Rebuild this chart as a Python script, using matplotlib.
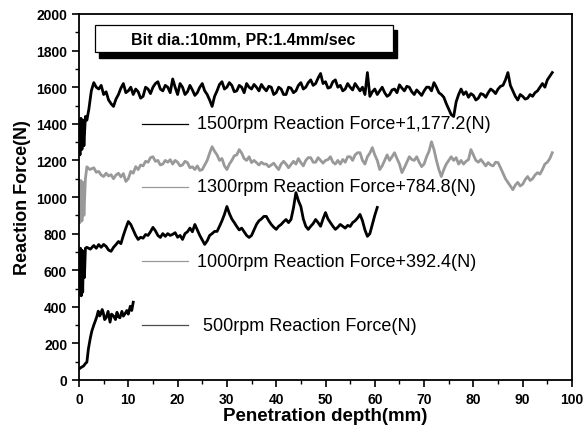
import matplotlib
matplotlib.use("Agg")
import matplotlib.pyplot as plt
import numpy as np
from matplotlib.patches import Rectangle

plt.rcParams['font.family'] = ['Liberation Sans', 'DejaVu Sans']

# reaction force traces (depth in mm, force in N)
# start-up part is read point by point, the rest every 0.5 mm
x1500_start = [0, 0.2, 0.4, 0.6, 0.8, 1.0, 1.3, 1.6, 2.0, 2.5]
y1500_start = [1400, 1230, 1430, 1260, 1420, 1280, 1440, 1420, 1480, 1580]
y1500 = [1625, 1600, 1590, 1610, 1560, 1575, 1530, 1510, 1495, 1535,
         1560, 1595, 1620, 1570, 1580, 1600, 1560, 1590, 1575, 1540,
         1550, 1600, 1590, 1565, 1600, 1620, 1630, 1590, 1580, 1610,
         1600, 1570, 1645, 1600, 1560, 1620, 1600, 1560, 1575, 1610,
         1585, 1555, 1570, 1600, 1620, 1580, 1560, 1530, 1495, 1550,
         1580, 1615, 1630, 1590, 1600, 1625, 1610, 1575, 1580, 1610,
         1600, 1570, 1620, 1600, 1590, 1615, 1600, 1580, 1615, 1595,
         1580, 1605, 1600, 1560, 1570, 1600, 1590, 1560, 1560, 1600,
         1595, 1570, 1580, 1610, 1625, 1590, 1600, 1625, 1640, 1610,
         1620, 1650, 1675, 1620, 1630, 1595, 1600, 1630, 1640, 1600,
         1610, 1580, 1590, 1620, 1600, 1585, 1620, 1600, 1580, 1600,
         1560, 1680, 1550, 1575, 1590, 1560, 1580, 1600, 1570, 1550,
         1560, 1585, 1590, 1570, 1613, 1595, 1580, 1605, 1600, 1575,
         1560, 1585, 1570, 1555, 1580, 1600, 1600, 1580, 1625, 1600,
         1570, 1560, 1545, 1510, 1480, 1450, 1440, 1520, 1560, 1590,
         1560, 1575, 1545, 1565, 1555, 1530, 1540, 1565, 1560, 1545,
         1570, 1590, 1580, 1565, 1590, 1605, 1610, 1640, 1680, 1610,
         1580, 1550, 1530, 1560, 1550, 1535, 1540, 1560, 1550, 1570,
         1580, 1600, 1620, 1600, 1640, 1660, 1680]

x1300_start = [0, 0.2, 0.4, 0.6, 0.8, 1.0, 1.3, 1.6, 2.2]
y1300_start = [1050, 860, 1090, 870, 1080, 900, 1100, 1165, 1150]
y1300 = [1160, 1135, 1140, 1120, 1112, 1130, 1115, 1122, 1100, 1120,
         1130, 1110, 1128, 1085, 1100, 1140, 1130, 1166, 1150, 1175,
         1170, 1195, 1190, 1215, 1220, 1195, 1200, 1175, 1180, 1200,
         1190, 1204, 1180, 1200, 1190, 1170, 1175, 1195, 1188, 1160,
         1165, 1150, 1170, 1145, 1150, 1175, 1200, 1240, 1275, 1250,
         1230, 1200, 1210, 1170, 1150, 1180, 1200, 1225, 1230, 1259,
         1240, 1210, 1200, 1220, 1188, 1200, 1188, 1175, 1190, 1180,
         1180, 1165, 1175, 1185, 1166, 1150, 1180, 1195, 1180, 1160,
         1177, 1195, 1180, 1210, 1188, 1170, 1200, 1215, 1215, 1190,
         1190, 1215, 1200, 1185, 1200, 1204, 1220, 1190, 1180, 1200,
         1180, 1205, 1190, 1220, 1220, 1200, 1230, 1242, 1242, 1200,
         1180, 1220, 1240, 1270, 1230, 1200, 1150, 1170, 1200, 1230,
         1200, 1220, 1242, 1210, 1180, 1133, 1160, 1190, 1220, 1205,
         1200, 1220, 1190, 1166, 1180, 1220, 1250, 1302, 1260, 1200,
         1150, 1112, 1150, 1180, 1200, 1220, 1200, 1215, 1180, 1200,
         1180, 1195, 1204, 1259, 1230, 1200, 1190, 1205, 1188, 1170,
         1188, 1175, 1170, 1190, 1188, 1160, 1130, 1100, 1080, 1060,
         1040, 1065, 1080, 1060, 1070, 1095, 1112, 1090, 1100, 1120,
         1133, 1125, 1150, 1180, 1190, 1210, 1242]

x1000_start = [0, 0.15, 0.3, 0.45, 0.6, 0.75, 0.9, 1.1, 1.3, 1.6, 2.3]
y1000_start = [700, 470, 720, 460, 710, 480, 700, 560, 720, 725, 715]
y1000 = [735, 720, 740, 725, 741, 730, 710, 703, 725, 740,
         757, 745, 790, 830, 866, 850, 820, 790, 768, 780,
         775, 795, 790, 810, 834, 815, 790, 779, 800, 785,
         800, 790, 796, 805, 780, 790, 768, 800, 810, 830,
         810, 850, 820, 790, 765, 741, 760, 790, 800, 812,
         812, 840, 870, 905, 948, 910, 880, 860, 839, 820,
         830, 810, 790, 779, 790, 820, 850, 870, 880, 894,
         894, 870, 850, 835, 823, 840, 850, 865, 877, 860,
         877, 940, 1024, 980, 948, 880, 840, 823, 840, 855,
         877, 860, 840, 880, 915, 880, 860, 840, 823, 835,
         850, 840, 830, 845, 839, 860, 870, 885, 905, 870,
         820, 785, 800, 850, 900, 943]

x500 = [0, 0.5, 0.9, 1.3, 1.6, 1.9, 2.3, 2.6, 3.0, 3.3, 3.6, 3.9, 4.2, 4.4, 4.7, 4.9, 5.2, 5.5, 5.9,
        6.3, 6.6, 7.0, 7.4, 7.7, 8.0, 8.3, 8.7, 9.0, 9.4, 9.7, 10.0, 10.4, 10.7, 11.0]
y500 = [60, 70, 76, 90, 98, 169, 230, 267, 300, 322, 345, 376, 350, 360, 385, 370, 330, 340, 375,
        316, 360, 350, 330, 370, 345, 340, 375, 349, 365, 380, 360, 403, 380, 425]

labels = ['1500rpm Reaction Force+1,177.2(N)', '1300rpm Reaction Force+784.8(N)',
          '1000rpm Reaction Force+392.4(N)', '500rpm Reaction Force(N)']

x1500 = x1500_start + list(3 + 0.5 * np.arange(len(y1500)))
x1300 = x1300_start + list(3 + 0.5 * np.arange(len(y1300)))
x1000 = x1000_start + list(3 + 0.5 * np.arange(len(y1000)))

fig = plt.figure(figsize=(5.84, 4.39), dpi=100)
ax = fig.add_axes([79 / 584, 1 - 381 / 439, (572 - 79) / 584, (381 - 15) / 439])

ax.plot(x1500, y1500_start + y1500, color='black', lw=2.0)
ax.plot(x1300, y1300_start + y1300, color='0.6', lw=2.0)
ax.plot(x1000, y1000_start + y1000, color='black', lw=2.0)
ax.plot(x500, y500, color='black', lw=2.0)

# hand placed legend entries, same as the original figure
leg_y = [1400, 1057, 648, 298]
leg_col = ['black', '0.6', '0.6', '0.3']
leg_tx = [24.0, 24.0, 24.0, 25.2]
for yy, c, lab, tx in zip(leg_y, leg_col, labels, leg_tx):
    ax.plot([12.8, 22.2], [yy, yy], color=c, lw=0.9)
    ax.text(tx, yy, lab, fontsize=13, va='center', ha='left')

# boxed condition note with shadow
ax.add_patch(Rectangle((4.0, 1762), 60.5, 148, fc='black', ec='black', zorder=4))
ax.add_patch(Rectangle((3.2, 1790), 60.5, 148, fc='white', ec='black', lw=0.9, zorder=5))
ax.text(33.4, 1864, 'Bit dia.:10mm, PR:1.4mm/sec', fontsize=11.5, fontweight='bold',
        ha='center', va='center', zorder=6)

ax.set_xlim(0, 100)
ax.set_ylim(0, 2000)
ax.set_xticks(range(0, 101, 10))
ax.set_yticks(range(0, 2001, 200))
ax.set_xticks(range(5, 100, 10), minor=True)
ax.set_yticks(range(100, 2000, 200), minor=True)
ax.tick_params(which='major', direction='out', length=5, width=1.2, top=False, right=False)
ax.tick_params(which='minor', direction='out', length=3, width=1, top=False, right=False)
for lab in ax.get_xticklabels() + ax.get_yticklabels():
    lab.set_fontweight('bold')
    lab.set_fontsize(10)
for sp in ax.spines.values():
    sp.set_linewidth(1.3)

ax.set_xlabel('Penetration depth(mm)', fontsize=13.5, fontweight='bold', labelpad=1)
ax.set_ylabel('Reaction Force(N)', fontsize=13, fontweight='bold', labelpad=4)

fig.savefig('out.png', dpi=100)
